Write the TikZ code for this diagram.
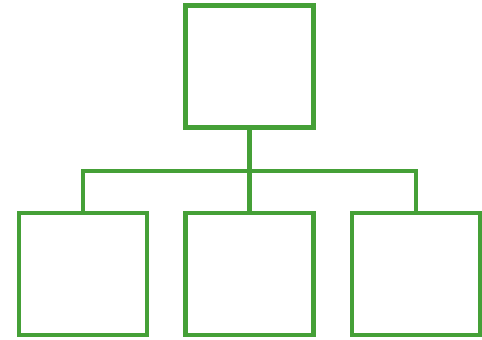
\documentclass[tikz,border=0pt]{standalone}
\definecolor{boxgreen}{RGB}{69,160,55}
\begin{document}
\begin{tikzpicture}[x=1pt,y=-1pt,
  orgbox/.style={draw=boxgreen,line width=4.3pt,minimum width=128pt,minimum height=122pt,inner sep=0pt,outer sep=0pt},
  link/.style={draw=boxgreen,line width=4.3pt}]
\useasboundingbox (0,0) rectangle (482,340);
\node[orgbox] (top) at (249.5,66.5) {};
\node[orgbox] (left) at (82.75,274) {};
\node[orgbox] (mid) at (249.5,274) {};
\node[orgbox] (right) at (415.75,274) {};
\coordinate (hub) at (249.5,171);
\draw[link] (top.south) -- (mid.north);
\draw[link] (left.north) |- (hub) -| (right.north);
\end{tikzpicture}
\end{document}
